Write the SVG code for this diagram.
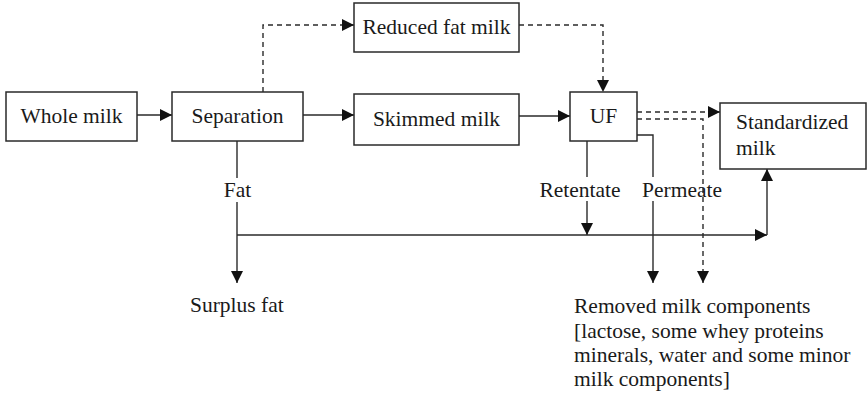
<svg xmlns="http://www.w3.org/2000/svg" width="868" height="398" viewBox="0 0 868 398">
<defs>
<style>
.box{fill:#fff;stroke:#2a2a2a;stroke-width:1.5}
.ln{fill:none;stroke:#2a2a2a;stroke-width:1.4}
.dash{fill:none;stroke:#2a2a2a;stroke-width:1.4;stroke-dasharray:5 4}
.t{font-family:"Liberation Serif","Times New Roman",serif;font-size:21.5px;fill:#1a1a1a}
.c{text-anchor:middle}
</style>
<marker id="ah" viewBox="0 0 12 12" refX="12" refY="6" markerWidth="12" markerHeight="12" markerUnits="userSpaceOnUse" orient="auto">
<path d="M0,0 L12,6 L0,12 z" fill="#111"/>
</marker>
</defs>
<rect width="868" height="398" fill="#fff"/>
<g id="connectors">
<path class="ln" d="M137,115 H172" marker-end="url(#ah)"/>
<path class="ln" d="M303,115 H354" marker-end="url(#ah)"/>
<path class="ln" d="M519,116 H570" marker-end="url(#ah)"/>
<path class="dash" d="M263,92 V25 H354" marker-end="url(#ah)"/>
<path class="dash" d="M519,25 H603 V92" marker-end="url(#ah)"/>
<path class="dash" d="M637,112 H720" marker-end="url(#ah)"/>
<path class="dash" d="M637,119 H703 V283" marker-end="url(#ah)"/>
<path class="ln" d="M237,141 V178"/>
<path class="ln" d="M237,202 V283" marker-end="url(#ah)"/>
<path class="ln" d="M587,141 V177"/>
<path class="ln" d="M587,201 V235" marker-end="url(#ah)"/>
<path class="ln" d="M637,135 H653 V177"/>
<path class="ln" d="M653,201 V283" marker-end="url(#ah)"/>
<path class="ln" d="M237,235 H767" marker-end="url(#ah)"/>
<path class="ln" d="M767,235 V169" marker-end="url(#ah)"/>
</g>
<g id="whole-milk">
<rect class="box" x="6" y="92" width="131" height="49"/>
<text class="t c" x="71.5" y="123">Whole milk</text>
</g>
<g id="separation">
<rect class="box" x="172" y="92" width="131" height="49"/>
<text class="t c" x="237.5" y="123">Separation</text>
</g>
<g id="reduced-fat-milk">
<rect class="box" x="354" y="3" width="165" height="49"/>
<text class="t c" x="436.5" y="34">Reduced fat milk</text>
</g>
<g id="skimmed-milk">
<rect class="box" x="354" y="94" width="165" height="51"/>
<text class="t c" x="436.5" y="126">Skimmed milk</text>
</g>
<g id="uf">
<rect class="box" x="570" y="92" width="67" height="49"/>
<text class="t c" x="603.5" y="123">UF</text>
</g>
<g id="standardized-milk">
<rect class="box" x="720" y="103" width="146" height="66"/>
<text class="t" x="736" y="129">Standardized</text>
<text class="t" x="736" y="155">milk</text>
</g>
<g id="labels">
<text class="t c" x="237.5" y="197">Fat</text>
<text class="t c" x="580" y="197">Retentate</text>
<text class="t c" x="682" y="197">Permeate</text>
</g>
<g id="surplus-fat">
<text class="t" x="190" y="312">Surplus fat</text>
</g>
<g id="removed-components">
<text class="t" x="574" y="313">Removed milk components</text>
<text class="t" x="574" y="338">[lactose, some whey proteins</text>
<text class="t" x="574" y="362">minerals, water and some minor</text>
<text class="t" x="574" y="386">milk components]</text>
</g>
</svg>
